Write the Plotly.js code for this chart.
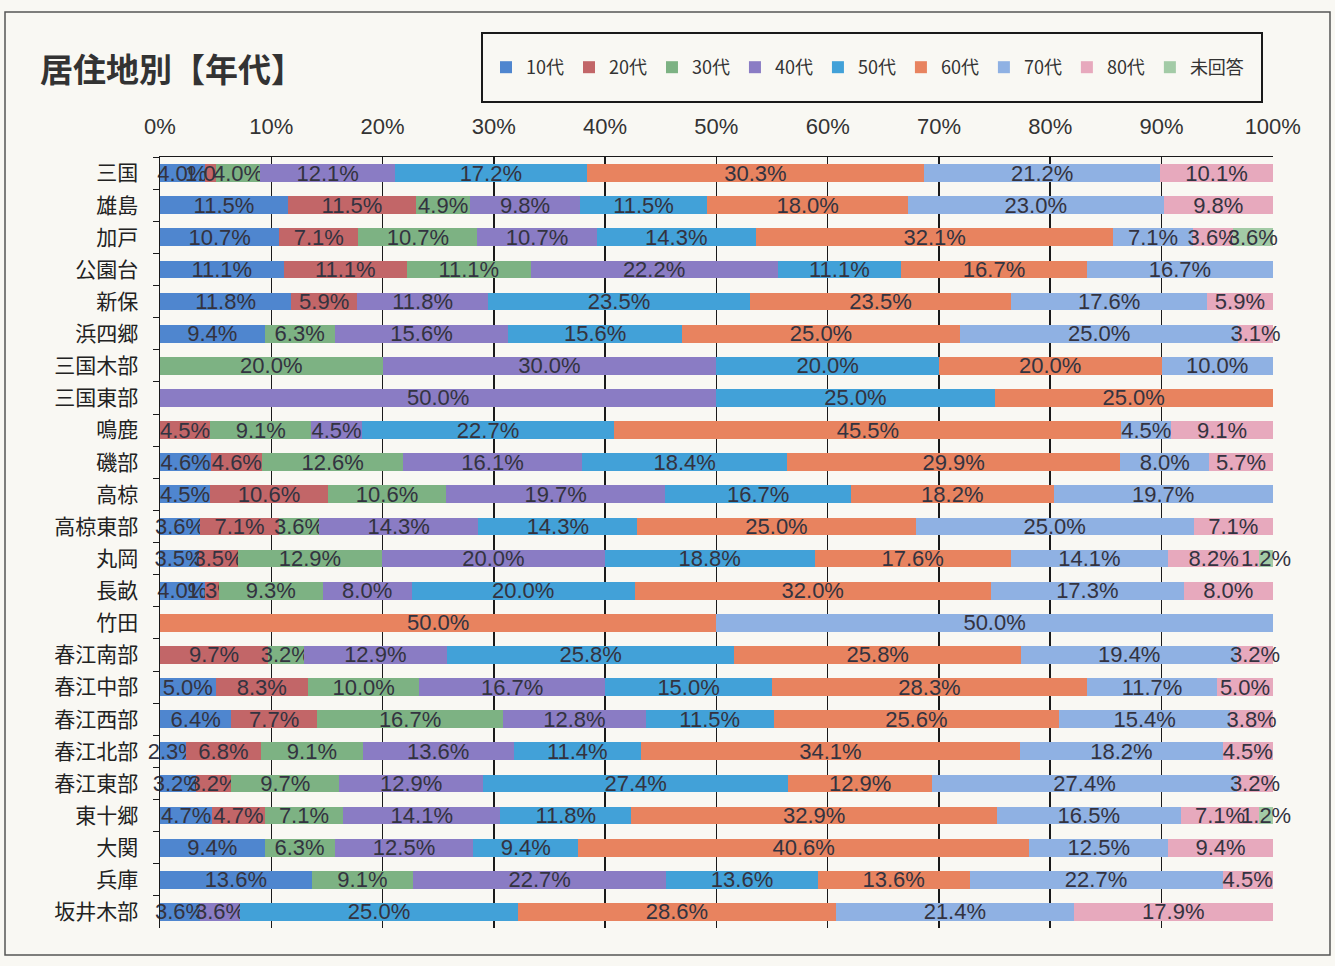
<!DOCTYPE html>
<html>
<head>
<meta charset="utf-8">
<script src="https://cdn.plot.ly/plotly-3.0.1.min.js"></script>
<style>
  html, body { margin: 0; padding: 0; background: #f9f8f3; }
  #chart { width: 1335px; height: 966px; }
</style>
</head>
<body>
<div id="chart"></div>
<script>
// Categories (top to bottom)
const regions = ["三国","雄島","加戸","公園台","新保","浜四郷","三国木部","三国東部","鳴鹿","磯部","高椋","高椋東部","丸岡","長畝","竹田","春江南部","春江中部","春江西部","春江北部","春江東部","東十郷","大関","兵庫","坂井木部"];

// Series values (%)
const age10 = [4.0,11.5,10.7,11.1,11.8,9.4,0,0,0,4.6,4.5,3.6,3.5,4.0,0,0,5.0,6.4,2.3,3.2,4.7,9.4,13.6,3.6];
const age20 = [1.0,11.5,7.1,11.1,5.9,0,0,0,4.5,4.6,10.6,7.1,3.5,1.3,0,9.7,8.3,7.7,6.8,3.2,4.7,0,0,0];
const age30 = [4.0,4.9,10.7,11.1,0,6.3,20.0,0,9.1,12.6,10.6,3.6,12.9,9.3,0,3.2,10.0,16.7,9.1,9.7,7.1,6.3,9.1,0];
const age40 = [12.1,9.8,10.7,22.2,11.8,15.6,30.0,50.0,4.5,16.1,19.7,14.3,20.0,8.0,0,12.9,16.7,12.8,13.6,12.9,14.1,12.5,22.7,3.6];
const age50 = [17.2,11.5,14.3,11.1,23.5,15.6,20.0,25.0,22.7,18.4,16.7,14.3,18.8,20.0,0,25.8,15.0,11.5,11.4,27.4,11.8,9.4,13.6,25.0];
const age60 = [30.3,18.0,32.1,16.7,23.5,25.0,20.0,25.0,45.5,29.9,18.2,25.0,17.6,32.0,50.0,25.8,28.3,25.6,34.1,12.9,32.9,40.6,13.6,28.6];
const age70 = [21.2,23.0,7.1,16.7,17.6,25.0,10.0,0,4.5,8.0,19.7,25.0,14.1,17.3,50.0,19.4,11.7,15.4,18.2,27.4,16.5,12.5,22.7,21.4];
const age80 = [10.1,9.8,3.6,0,5.9,3.1,0,0,9.1,5.7,0,7.1,8.2,8.0,0,3.2,5.0,3.8,4.5,3.2,7.1,9.4,4.5,17.9];
const noAns = [0,0,3.6,0,0,0,0,0,0,0,0,0,1.2,0,0,0,0,0,0,0,1.2,0,0,0];

const seriesNames = ["10代","20代","30代","40代","50代","60代","70代","80代","未回答"];
const seriesData = [age10, age20, age30, age40, age50, age60, age70, age80, noAns];
const seriesColors = ["#4f86cf","#c26668","#7db283","#8a7cc4","#42a1d8","#e8835f","#8fb1e3","#e7a9bd","#a3cba6"];

// x tick labels
const xTickVals = [0,10,20,30,40,50,60,70,80,90,100];
const xTickText = ["0%","10%","20%","30%","40%","50%","60%","70%","80%","90%","100%"];

const traces = seriesData.map((vals, i) => ({
  type: "bar",
  orientation: "h",
  name: seriesNames[i],
  y: regions,
  x: vals,
  text: vals.map(v => v > 0 ? v.toFixed(1) + "%" : ""),
  textposition: "inside",
  insidetextanchor: "middle",
  textangle: 0,
  constraintext: "none",
  cliponaxis: false,
  textfont: { family: "Liberation Sans, Arial, sans-serif", size: 22, color: "#333340" },
  marker: { color: seriesColors[i], line: { width: 0 } },
  hoverinfo: "name+x"
}));

const W = 1335, H = 966, L = 160, R = 62, T = 157, B = 38;
const pw = W - L - R, ph = H - T - B;
const px2x = p => (p - L) / pw;
const px2y = p => (H - B - p) / ph;

const layout = {
  width: W, height: H,
  paper_bgcolor: "#f9f8f3",
  plot_bgcolor: "#f9f8f3",
  margin: { l: L, r: R, t: T, b: B, autoexpand: false },
  barmode: "stack",
  barnorm: "percent",
  bargap: 0.45,
  title: {
    text: "<b>居住地別【年代】</b>",
    font: { family: "Noto Sans CJK JP", size: 33, color: "#333" },
    xref: "container", yref: "container",
    x: 40 / W, xanchor: "left",
    y: 1 - 70 / H, yanchor: "middle"
  },
  xaxis: {
    side: "top",
    range: [0, 100.02],
    tickvals: xTickVals,
    ticktext: xTickText,
    showgrid: true,
    gridcolor: "#1a1a1a",
    gridwidth: 1.5,
    zeroline: false,
    showline: true,
    linecolor: "#1a1a1a",
    linewidth: 1.5,
    ticks: "",
    ticklabelstandoff: 13,
    tickfont: { family: "Liberation Sans, Arial, sans-serif", size: 22, color: "#333" },
    fixedrange: true
  },
  yaxis: {
    autorange: "reversed",
    type: "category",
    showline: true,
    linecolor: "#1a1a1a",
    linewidth: 1.5,
    ticks: "outside",
    tickson: "boundaries",
    ticklen: 6,
    tickcolor: "#1a1a1a",
    showgrid: false,
    ticklabelstandoff: 16,
    tickfont: { family: "Noto Sans CJK JP", size: 21, color: "#222" },
    fixedrange: true
  },
  showlegend: true,
  legend: {
    orientation: "h",
    traceorder: "normal",
    x: px2x(486), xanchor: "left",
    y: (px2y(33) + px2y(102)) / 2, yanchor: "middle",
    bgcolor: "rgba(0,0,0,0)",
    borderwidth: 0,
    font: { family: "Noto Sans CJK JP", size: 18, color: "#333" },
    itemwidth: 30
  },
  shapes: [
    { type: "rect", xref: "paper", yref: "paper",
      x0: px2x(482), x1: px2x(1262), y0: px2y(102), y1: px2y(33),
      line: { color: "#1a1a1a", width: 2 }, fillcolor: "rgba(0,0,0,0)", layer: "above" },
    { type: "rect", xref: "paper", yref: "paper",
      x0: px2x(5), x1: px2x(1330), y0: px2y(955), y1: px2y(12),
      line: { color: "#555", width: 1.5 }, fillcolor: "rgba(0,0,0,0)", layer: "below" }
  ]
};

Plotly.newPlot("chart", traces, layout, { displayModeBar: false, staticPlot: true });
</script>
</body>
</html>
